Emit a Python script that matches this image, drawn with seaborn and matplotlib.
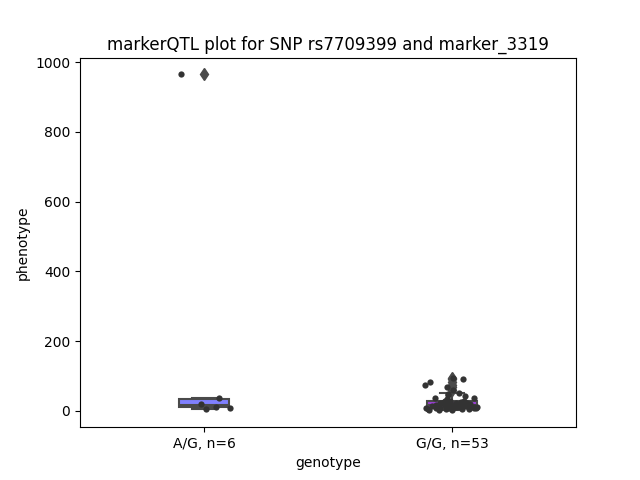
import numpy as np
import pandas as pd
import matplotlib
matplotlib.use("Agg")
import matplotlib.pyplot as plt
import seaborn as sns

categories = ["A/G, n=6", "G/G, n=53"]
ag_values = [965, 37, 20, 12, 9, 5]
gg_values = [1, 2, 3, 4, 4, 5, 6, 6, 7, 7, 8, 8, 9,
             9,
             10, 10, 11, 12, 12, 13, 14, 14, 15, 16, 16, 17,
             17,
             18, 19, 20, 21, 22, 22, 23, 24, 25, 26, 27, 28,
             29,
             34, 36, 38, 42, 45, 48, 52, 60, 68, 75, 82, 90, 95]
box_colors = ["#8080ff", "#9b3fd6"]

df = pd.DataFrame({
    "genotype": [categories[0]] * len(ag_values) + [categories[1]] * len(gg_values),
    "phenotype": ag_values + gg_values,
})

np.random.seed(7)
fig, ax = plt.subplots(figsize=(6.4, 4.8), dpi=100)
sns.boxplot(data=df, x="genotype", y="phenotype", order=categories,
            hue="genotype", hue_order=categories, palette=box_colors,
            width=0.2, saturation=1, legend=False, ax=ax,
            linecolor="#4a4a4a", linewidth=1.5,
            flierprops=dict(marker="d", markersize=6,
                            markerfacecolor="#4a4a4a", markeredgecolor="#4a4a4a"))
sns.stripplot(data=df, x="genotype", y="phenotype", order=categories,
              color="#333333", size=4.5, jitter=0.11, ax=ax)
ax.set_title("markerQTL plot for SNP rs7709399 and marker_3319")
ax.set_xlabel("genotype")
ax.set_ylabel("phenotype")
fig.savefig("out.png", dpi=100)
